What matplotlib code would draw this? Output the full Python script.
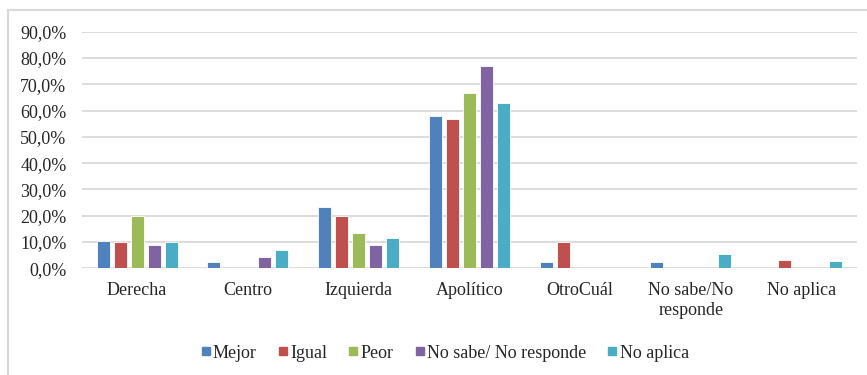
import matplotlib
matplotlib.use("Agg")
import matplotlib.pyplot as plt
from matplotlib.lines import Line2D
from matplotlib.patches import Rectangle
from matplotlib.font_manager import FontProperties
import numpy as np

categories = ["Derecha", "Centro", "Izquierda", "Apolítico", "OtroCuál",
              "No sabe/No\nresponde", "No aplica"]
series_names = ["Mejor", "Igual", "Peor", "No sabe/ No responde", "No aplica"]

mejor = [10.3, 2.4, 23.4, 57.8, 2.4, 2.4, 0.0]
igual = [10.0, 0.0, 20.0, 56.7, 10.0, 0.0, 3.3]
peor = [20.0, 0.0, 13.3, 66.7, 0.0, 0.0, 0.0]
no_sabe = [8.7, 4.3, 8.7, 77.0, 0.0, 0.0, 0.0]
no_aplica = [10.0, 7.0, 11.4, 62.8, 0.0, 5.4, 2.8]

series_values = [mejor, igual, peor, no_sabe, no_aplica]
colors = ["#4F81BD", "#C0504D", "#9BBB59", "#8064A2", "#4BACC6"]

yticks = np.arange(0, 91, 10)
ytick_labels = [f"{v:.1f}%".replace(".", ",") for v in yticks]

serif = ["Liberation Serif", "DejaVu Serif"]
plt.rcParams["font.family"] = serif
text_color = "#262626"

fig = plt.figure(figsize=(8.67, 3.75), dpi=100)
ax = fig.add_axes([0.0942, 0.2845, 0.8943, 0.631])

# light frame around the chart area (only left and top edges inside the canvas)
fig.patches.append(Rectangle((8 / 867, -0.2), 1.3, 1.2 - 9.5 / 375,
                             transform=fig.transFigure, fill=False,
                             edgecolor="#D9D9D9", linewidth=1.5, zorder=0))

x = np.arange(len(categories))
step = 0.1535
width = 0.117
for i, (vals, col, name) in enumerate(zip(series_values, colors, series_names)):
    offs = (i - 2) * step
    ax.bar(x + offs, vals, width=width, color=col, edgecolor="white",
           linewidth=0.6, zorder=3, label=name)

ax.set_xlim(-0.5, len(categories) - 0.5)
ax.set_ylim(0, 90)
ax.set_yticks(yticks)
ax.set_yticklabels(ytick_labels)
ax.set_xticks(x)
ax.set_xticklabels(categories, linespacing=1.2)
ax.tick_params(axis="both", length=0, labelsize=13, colors=text_color)
ax.tick_params(axis="y", pad=11)
ax.tick_params(axis="x", pad=10)

ax.grid(axis="y", color="#D9D9D9", linewidth=1.3, zorder=0)
for s in ax.spines.values():
    s.set_visible(False)

legend_font = FontProperties(family="Liberation Serif", size=13)
handles = [Line2D([], [], marker="s", linestyle="", color=c, markersize=5.5)
           for c in colors]
leg = fig.legend(handles, series_names, loc="center",
                 bbox_to_anchor=(445 / 867, 1 - 353 / 375),
                 ncol=5, frameon=False, prop=legend_font,
                 handlelength=0.5, handletextpad=0.15, columnspacing=1.2)
for t in leg.get_texts():
    t.set_fontproperties(legend_font)
    t.set_color(text_color)

fig.savefig("out.png", dpi=100)
